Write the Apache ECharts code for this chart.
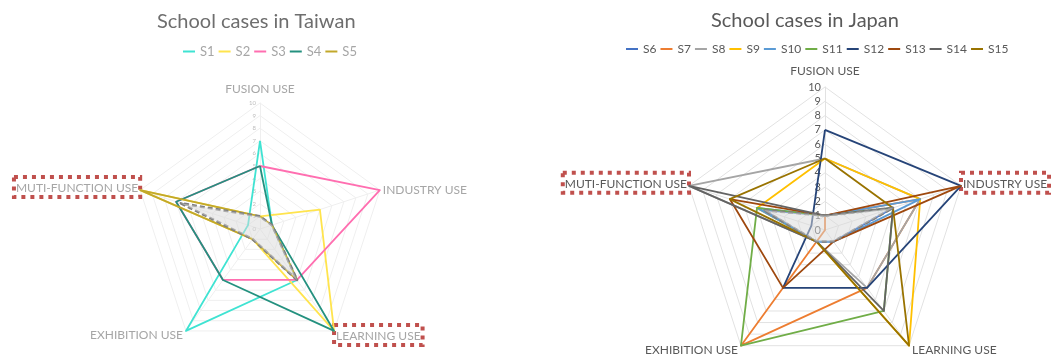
<!DOCTYPE html>
<html>
<head>
<meta charset="utf-8">
<script src="https://cdn.jsdelivr.net/npm/echarts@6/dist/echarts.min.js"></script>
<style>
  html, body { margin: 0; padding: 0; background: #fff; }
  #main { width: 1051px; height: 355px; }
</style>
</head>
<body>
<div id="main"></div>
<script>
// axes in Excel order (clockwise from the top)
const axes = ['FUSION USE', 'INDUSTRY USE', 'LEARNING USE', 'EXHIBITION USE', 'MUTI-FUNCTION USE'];
const ticks = ['0', '1', '2', '3', '4', '5', '6', '7', '8', '9', '10'];

// Taiwan
const twNames = ['S1', 'S2', 'S3', 'S4', 'S5'];
const s1 = [7, 1, 5, 10, 1];
const s2 = [1, 5, 10, 1, 10];
const s3 = [5, 10, 5, 5, 7];
const s4 = [5, 1, 10, 5, 7];
const s5 = [1, 1, 5, 1, 10];
const twAvg = [1, 1, 5, 1, 6.6];
const twBoxed = ['MUTI-FUNCTION USE', 'LEARNING USE'];

// Japan
const jpNames = ['S6', 'S7', 'S8', 'S9', 'S10', 'S11', 'S12', 'S13', 'S14', 'S15'];
const s6 = [1, 5, 1, 1, 4.5];
const s7 = [1, 7, 5, 10, 0];
const s8 = [5, 7, 5, 1, 10];
const s9 = [5, 7, 10, 1, 5];
const s10 = [1, 7, 1, 1, 5];
const s11 = [1, 5, 7, 10, 5];
const s12 = [7, 10, 5, 5, 1];
const s13 = [1, 10, 1, 5, 7];
const s14 = [1, 5, 7, 1, 10];
const s15 = [5, 5, 10, 1, 7];
const jpAvg = [1, 5, 1, 1, 4.5];
const jpBoxed = ['MUTI-FUNCTION USE', 'INDUSTRY USE'];

const twColors = ['#3FE3D2', '#FFE44D', '#FF6EB0', '#24917F', '#C2A82A'];
const jpColors = ['#4472C4', '#ED7D31', '#A5A5A5', '#FFC000', '#5B9BD5',
                  '#70AD47', '#264478', '#9E480E', '#636363', '#997300'];

const font = 'Lato, "Open Sans", sans-serif';
// echarts lays the indicators out counter-clockwise
const ccw = [0, 4, 3, 2, 1];
const toRadar = (v) => ccw.map((i) => v[i]);

// axis names: spacer lines push the text off the vertex like excel does
function nameFormatter(boxed) {
  return function (name) {
    const style = boxed.indexOf(name) >= 0 ? 'box' : 'txt';
    const lab = '{' + style + '|' + name + '}';
    if (name === 'FUSION USE') return lab + '\n{gap| }';
    if (name === 'LEARNING USE' || name === 'EXHIBITION USE') return '{gap| }\n' + lab;
    if (style === 'box') return lab + '\n{half| }';
    return lab;
  };
}

function makeRadar(center, radius, textColor, gridColor, labelSize, boxed) {
  return {
    center: center,
    radius: radius,
    startAngle: 90,
    shape: 'polygon',
    splitNumber: 10,
    nameGap: 0,
    indicator: ccw.map((i, k) => {
      let ind = { name: axes[i], min: 0, max: 10 };
      if (k === 0) ind.axisLabel = { show: true };
      return ind;
    }),
    axisName: {
      color: textColor,
      fontSize: 12,
      fontFamily: font,
      formatter: nameFormatter(boxed),
      rich: {
        txt: { padding: [0, 3] },
        box: {
          borderColor: '#C0504D',
          borderWidth: 4,
          borderType: [4, 5],
          padding: [5, 2, 3, 2]
        },
        gap: { fontSize: 1, lineHeight: 8 },
        half: { fontSize: 1, lineHeight: 6 }
      }
    },
    axisLabel: {
      show: false,
      fontSize: labelSize,
      color: labelSize < 8 ? '#BDBDBD' : '#595959',
      fontFamily: font,
      margin: 4,
      formatter: (v) => ticks[v]
    },
    axisLine: { lineStyle: { color: gridColor, width: 1 } },
    splitLine: { lineStyle: { color: gridColor, width: 1 } },
    splitArea: { show: false },
    axisTick: { show: false }
  };
}

function lineSeries(radarIndex, name, values, color) {
  return {
    type: 'radar',
    radarIndex: radarIndex,
    symbol: 'none',
    data: [{
      name: name,
      value: toRadar(values),
      itemStyle: { color: color },
      lineStyle: { color: color, width: 1.8 }
    }]
  };
}

function avgSeries(radarIndex, values) {
  return {
    type: 'radar',
    radarIndex: radarIndex,
    symbol: 'none',
    data: [{
      name: 'avg',
      value: toRadar(values),
      itemStyle: { color: '#7F7F7F' },
      lineStyle: { color: '#7F7F7F', width: 2.6, type: [5, 3] },
      areaStyle: { color: '#D9D9D9', opacity: 0.5 }
    }]
  };
}

const twData = [s1, s2, s3, s4, s5];
const jpData = [s6, s7, s8, s9, s10, s11, s12, s13, s14, s15];

const series = [];
twData.forEach((v, i) => series.push(lineSeries(0, twNames[i], v, twColors[i])));
series.push(avgSeries(0, twAvg));
jpData.forEach((v, i) => series.push(lineSeries(1, jpNames[i], v, jpColors[i])));
series.push(avgSeries(1, jpAvg));

const chart = echarts.init(document.getElementById('main'));
chart.setOption({
  animation: false,
  title: [
    { text: 'School cases in Taiwan', left: 152, top: 7,
      textStyle: { color: '#6E6E6E', fontSize: 20, fontWeight: 'normal', fontFamily: font } },
    { text: 'School cases in Japan', left: 706, top: 6,
      textStyle: { color: '#595959', fontSize: 20, fontWeight: 'normal', fontFamily: font } }
  ],
  legend: [
    { data: twNames, left: 178, top: 40, icon: 'rect', itemWidth: 12, itemHeight: 2, itemGap: 4,
      textStyle: { color: '#A6A6A6', fontSize: 13, fontFamily: font } },
    { data: jpNames, left: 621, top: 38, width: 428, icon: 'rect', itemWidth: 12, itemHeight: 2, itemGap: 4,
      textStyle: { color: '#595959', fontSize: 12, fontFamily: font } }
  ],
  radar: [
    makeRadar([260, 229], 126, '#A6A6A6', '#EFEFEF', 6, twBoxed),
    makeRadar([825, 230], 143, '#595959', '#E2E2E2', 11, jpBoxed)
  ],
  series: series
});
</script>
</body>
</html>
